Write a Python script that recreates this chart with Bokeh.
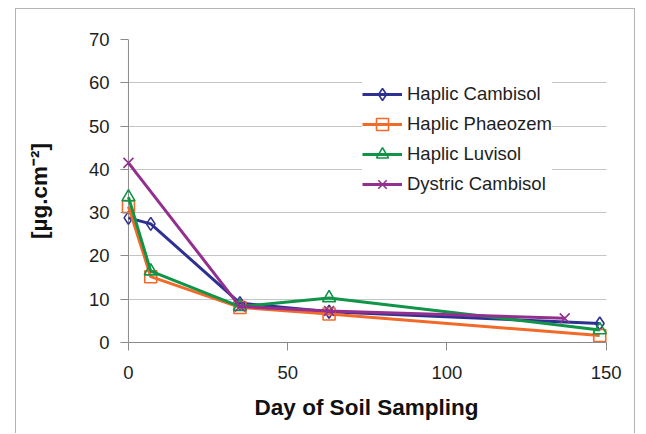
from bokeh.plotting import figure
from bokeh.models import Range1d, Legend, LegendItem, SingleIntervalTicker, Span
from bokeh.embed import file_html
from bokeh.resources import INLINE

# ---- data ----
days = [0, 7, 35, 63, 148]
haplic_cambisol = [28.8, 27.4, 9.1, 7.1, 4.4]
haplic_phaeozem = [31.4, 15.2, 8.1, 6.6, 1.6]
haplic_luvisol = [33.6, 16.5, 8.3, 10.3, 2.9]
days_dystric = [0, 35, 63, 137]
dystric_cambisol = [41.5, 8.3, 7.3, 5.6]
x_ticks = [0, 50, 100, 150]
series_names = ["Haplic Cambisol", "Haplic Phaeozem", "Haplic Luvisol", "Dystric Cambisol"]

FONT = "Liberation Sans"
NAVY = "#2e3192"
ORANGE = "#f26a2a"
GREEN = "#0f9448"
PURPLE = "#93308f"
AXIS_GRAY = "#8a8a8a"

p = figure(width=620, height=425, output_backend="svg", toolbar_location=None,
           x_range=Range1d(-2.5, 152), y_range=Range1d(0, 70),
           min_border_left=104, min_border_right=24, min_border_top=30, min_border_bottom=92)
p.margin = (8, 0, 0, 15)
p.styles = {"border-top": "1px solid #b4b4b4", "border-left": "1px solid #b4b4b4",
            "border-right": "1px solid #b4b4b4"}
p.outline_line_color = None
p.background_fill_color = "white"
p.border_fill_color = "white"

# grid
p.xgrid.grid_line_color = None
p.ygrid.grid_line_color = "#c4c4c4"
p.ygrid.grid_line_width = 1
try:
    p.ygrid.cross_bounds = (0, 150)
except Exception:
    pass
p.ygrid.ticker = SingleIntervalTicker(interval=10)

# axes
p.xaxis.ticker = x_ticks
p.yaxis.ticker = SingleIntervalTicker(interval=10)
p.xaxis.bounds = (0, 150)
for ax in (p.xaxis[0], p.yaxis[0]):
    ax.axis_line_color = AXIS_GRAY
    ax.major_tick_line_color = AXIS_GRAY
    ax.minor_tick_line_color = None
    ax.major_label_text_font = FONT
    ax.major_label_text_font_size = "18.5px"
    ax.major_label_text_color = "#1e1e1e"
    ax.axis_label_text_font = FONT
    ax.axis_label_text_font_size = "22.5px"
    ax.axis_label_text_font_style = "bold"
    ax.axis_label_text_color = "#111111"
p.xaxis.major_tick_in = 0
p.xaxis.major_tick_out = 8
p.yaxis.axis_line_color = None
p.yaxis.major_tick_in = 8
p.yaxis.major_tick_out = 0
p.xaxis.major_label_standoff = 15
p.yaxis.major_label_standoff = 7
p.xaxis.axis_label = "Day of Soil Sampling"
p.yaxis.axis_label = "[µg.cm⁻²]"
p.xaxis.axis_label_standoff = 13
p.yaxis.axis_label_standoff = 34

# vertical axis line at day 0
p.add_layout(Span(location=0, dimension="height", line_color=AXIS_GRAY, line_width=1, level="underlay"))

items = []
specs = [
    (days, haplic_cambisol, NAVY, "diamond", 13),
    (days, haplic_phaeozem, ORANGE, "square", 12),
    (days, haplic_luvisol, GREEN, "triangle", 13),
    (days_dystric, dystric_cambisol, PURPLE, "x", 14),
]
for (xs, ys, col, mk, sz), name in zip(specs, series_names):
    l = p.line(xs, ys, line_color=col, line_width=3)
    s = p.scatter(xs, ys, marker=mk, size=sz, line_color=col, line_width=1.6, fill_alpha=0)
    items.append(LegendItem(label=name, renderers=[l, s]))

legend = Legend(items=items, location=(242, 143), padding=10, margin=0,
                spacing=0, glyph_width=40, glyph_height=30, label_height=30,
                label_standoff=5, label_text_font=FONT, label_text_font_size="18.5px",
                label_text_color="#1e1e1e", background_fill_color="white",
                background_fill_alpha=1.0, border_line_color=None)
p.add_layout(legend, "center")

open("out.html", "w").write(file_html(p, INLINE))
